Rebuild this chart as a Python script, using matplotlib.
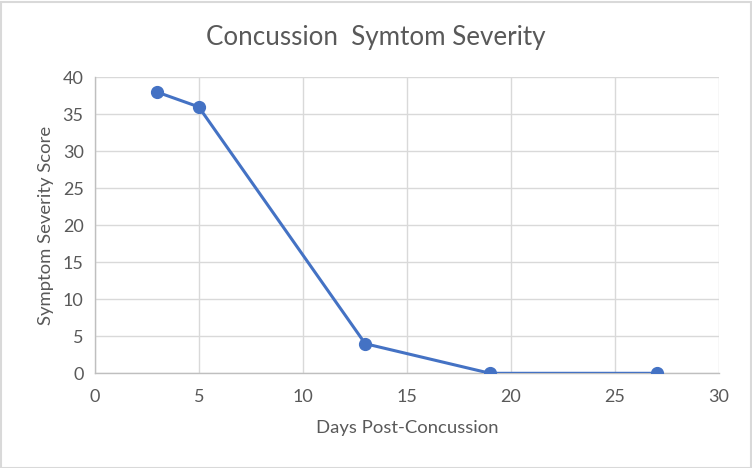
import matplotlib
matplotlib.use("Agg")
import matplotlib.pyplot as plt
from matplotlib.patches import Rectangle

days = [3, 5, 13, 19, 27]
scores = [38, 36, 4, 0, 0]
x_ticks = [0, 5, 10, 15, 20, 25, 30]
y_ticks = [0, 5, 10, 15, 20, 25, 30, 35, 40]

plt.rcParams['font.family'] = ['Lato', 'DejaVu Sans']
txt = '#595959'

fig = plt.figure(figsize=(7.52, 4.68), dpi=100)
ax = fig.add_axes([94.7/752, 1-373.3/468, (719-94.7)/752, (373.3-77.3)/468])

ax.plot(days, scores, color='#4472C4', lw=2.2, marker='o', ms=8.5, zorder=3)
ax.set_xlim(0, 30)
ax.set_ylim(0, 40)
ax.set_xticks(x_ticks)
ax.set_yticks(y_ticks)
ax.grid(True, color='#D9D9D9', lw=1)
ax.set_axisbelow(True)
for s in ['top', 'right']:
    ax.spines[s].set_visible(False)
for s in ['left', 'bottom']:
    ax.spines[s].set_color('#BFBFBF')
    ax.spines[s].set_linewidth(1)
ax.tick_params(length=0, labelsize=13, colors=txt, pad=8)
ax.tick_params(axis='x', pad=11)
ax.set_xlabel('Days Post-Concussion', fontsize=13.3, color=txt, labelpad=11)
ax.set_ylabel('Symptom Severity Score', fontsize=13.3, color=txt, labelpad=6)
fig.text(376/752, 1-38/468, 'Concussion  Symtom Severity', ha='center', va='center',
         fontsize=18.7, color=txt)
fig.patches.append(Rectangle((0.5/752, 0.5/468), 750/752, 466/468, transform=fig.transFigure,
                             fill=False, edgecolor='#D9D9D9', lw=1.5))
fig.savefig('out.png', dpi=100)
